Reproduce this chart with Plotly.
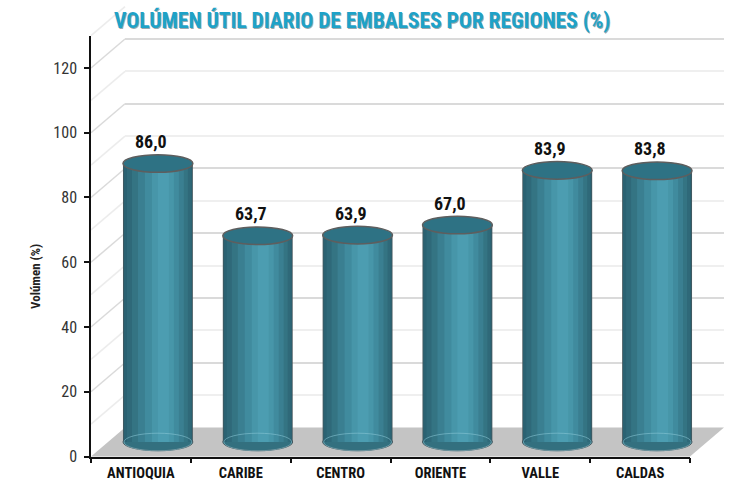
import plotly.graph_objects as go

# ---------------- data ----------------
categories = ["ANTIOQUIA", "CARIBE", "CENTRO", "ORIENTE", "VALLE", "CALDAS"]
volumen = [86.0, 63.7, 63.9, 67.0, 83.9, 83.8]
y_ticks = [0, 20, 40, 60, 80, 100, 120]
title_text = "VOLÚMEN ÚTIL DIARIO DE EMBALSES POR REGIONES (%)"
y_title = "Volúmen (%)"

# ---------------- layout geometry (pixels) ----------------
W, H = 738, 483
FONT = "Liberation Sans Narrow, Arial Narrow, Roboto Condensed, Liberation Sans, sans-serif"
fx0, fx1 = 91, 690          # front plot x extent
fy_top, fy0 = 35.6, 456.5   # front plot y extent (value 130 / value 0)
YMAX = 130
k = (fy0 - fy_top) / YMAX   # px per unit
DX, DY = 34, 29             # depth of 3D box
MX, MY = DX / 2, DY / 2     # bars sit in the middle of the depth
Y2MIN = -6


def dom_x(a, b):
    return [a / W, b / W]


def dom_y(top, bottom):
    return [(H - bottom) / H, (H - top) / H]


def px(x):
    return x / W


def py(y):
    return (H - y) / H


fig = go.Figure()

# ---- bars (cylinders) drawn as layered overlay bars for shading ----
BW = 0.70
layers = [  # (width, center shift, color)
    (0.700, 0.000, "#46585e"),
    (0.684, 0.000, "#2b6272"),
    (0.640, 0.010, "#2f6979"),
    (0.560, 0.020, "#347483"),
    (0.460, 0.030, "#3a7f91"),
    (0.340, 0.040, "#408b9e"),
    (0.220, 0.050, "#4796a9"),
    (0.110, 0.055, "#4c9db1"),
]
for w, c, col in layers:
    fig.add_trace(go.Bar(
        x=categories, y=volumen, width=w, offset=c - w / 2,
        marker=dict(color=col, line=dict(width=0)),
        xaxis="x2", yaxis="y2", showlegend=False, hoverinfo="skip",
    ))

# invisible traces so the back and front axes exist
fig.add_trace(go.Scatter(x=categories, y=[None] * len(categories), xaxis="x", yaxis="y",
                         mode="markers", showlegend=False, hoverinfo="skip"))
fig.add_trace(go.Scatter(x=categories, y=[None] * len(categories), xaxis="x3", yaxis="y3",
                         mode="markers", showlegend=False, hoverinfo="skip"))

shapes = []
# floor
floor_path = (f"M {px(fx0)},{py(fy0)} L {px(fx1)},{py(fy0)} "
              f"L {px(fx1 + DX)},{py(fy0 - DY)} L {px(fx0 + DX)},{py(fy0 - DY)} Z")
shapes.append(dict(type="path", path=floor_path, xref="paper", yref="paper",
                   fillcolor="#c4c4c4", line=dict(width=0), layer="below"))
# side wall diagonals
for v in range(10, YMAX + 1, 10):
    col = "#dadada" if v % 20 == 0 else "#ececec"
    shapes.append(dict(type="line", xref="paper", yref="paper",
                       x0=px(fx0), y0=py(fy0 - v * k), x1=px(fx0 + DX), y1=py(fy0 - DY - v * k),
                       line=dict(color=col, width=1.5), layer="below"))

EH = 8.8 / k  # half height of ellipse in data units
for i, v in enumerate(volumen):
    shapes.append(dict(type="circle", xref="x2", yref="y2",
                       x0=i - BW / 2, x1=i + BW / 2, y0=-EH, y1=EH,
                       fillcolor="#33707f", line=dict(color="#46585e", width=1), layer="below"))
    shapes.append(dict(type="circle", xref="x2", yref="y2",
                       x0=i - BW / 2 + 0.01, x1=i + BW / 2 - 0.01, y0=-EH, y1=EH,
                       fillcolor="rgba(0,0,0,0)", line=dict(color="rgba(140,200,215,0.55)", width=1),
                       layer="above"))
    shapes.append(dict(type="circle", xref="x2", yref="y2",
                       x0=i - BW / 2, x1=i + BW / 2, y0=v - EH, y1=v + EH,
                       fillcolor="#2e7284", line=dict(color="#5e5e5e", width=1.5), layer="above"))

annotations = []
for cat, v in zip(categories, volumen):
    annotations.append(dict(x=cat, y=v, xref="x2", yref="y2",
                            text="<b>" + f"{v:.1f}".replace(".", ",") + "</b>",
                            showarrow=False, yshift=22, xshift=-7, xanchor="center", yanchor="middle",
                            font=dict(family=FONT, size=18, color="#111111")))
for shift, col in [(1.3, "rgba(20,60,70,0.45)"), (0, "#1ea2c8")]:
    annotations.append(dict(x=px(362), y=py(20), xref="paper", yref="paper", text=f"<b>{title_text}</b>",
                            showarrow=False, xshift=shift, yshift=-shift,
                            xanchor="center", yanchor="middle",
                            font=dict(family=FONT, size=21.5, color=col)))
annotations.append(dict(x=px(35), y=py(277), xref="paper", yref="paper", text=f"<b>{y_title}</b>",
                        showarrow=False, textangle=-90, xanchor="center", yanchor="middle",
                        font=dict(family=FONT, size=13, color="#222222")))

axis_off = dict(showgrid=False, showline=False, zeroline=False, showticklabels=False, ticks="",
                automargin=False)

fig.update_layout(
    width=W, height=H,
    margin=dict(l=0, r=0, t=0, b=0, pad=0, autoexpand=False),
    paper_bgcolor="white", plot_bgcolor="rgba(0,0,0,0)",
    barmode="overlay", showlegend=False,
    font=dict(family=FONT, color="#333333"),
    xaxis=dict(domain=dom_x(fx0 + DX, fx1 + DX), type="category", categoryarray=categories,
               range=[-0.5, 5.5], anchor="y", **axis_off),
    yaxis=dict(domain=dom_y(fy_top - DY, fy0 - DY), range=[0, YMAX], anchor="x",
               showgrid=True, gridcolor="#dadada", gridwidth=1.5, dtick=20, tick0=0,
               minor=dict(dtick=10, showgrid=True, gridcolor="#efefef", gridwidth=1.5),
               showline=False, zeroline=False, showticklabels=False, ticks="", automargin=False),
    xaxis2=dict(domain=dom_x(fx0 + MX, fx1 + MX), type="category", categoryarray=categories,
                range=[-0.5, 5.5], anchor="y2", **axis_off),
    yaxis2=dict(domain=dom_y(fy0 - MY - YMAX * k, fy0 - MY - Y2MIN * k), range=[Y2MIN, YMAX],
                anchor="x2", **axis_off),
    xaxis3=dict(domain=dom_x(fx0, fx1), type="category", categoryarray=categories,
                range=[-0.5, 5.5], anchor="y3", showgrid=False, zeroline=False,
                showline=True, linecolor="#111111", linewidth=1.5,
                ticks="outside", tickson="boundaries", ticklen=5, tickcolor="#111111", tickwidth=1.5,
                tickfont=dict(family=FONT, size=14.5, color="#111111"), ticklabelstandoff=2,
                tickprefix="<b>", ticksuffix="</b>", automargin=False),
    yaxis3=dict(domain=dom_y(fy_top, fy0), range=[0, YMAX], anchor="x3",
                tickvals=y_ticks, showgrid=False, zeroline=False,
                showline=True, linecolor="#111111", linewidth=1.5,
                ticks="outside", ticklen=5, tickcolor="#111111", tickwidth=1.5,
                tickfont=dict(family=FONT, size=16, color="#333333"), ticklabelstandoff=4,
                automargin=False),
    shapes=shapes, annotations=annotations,
)

post = (
    "document.documentElement.style.margin='0';document.documentElement.style.padding='0';"
    "document.documentElement.style.overflow='hidden';"
    "document.body.style.margin='0';document.body.style.padding='0';document.body.style.overflow='hidden';"
    "var gd=document.getElementById('{plot_id}');"
    "gd.style.position='absolute';gd.style.left='0px';gd.style.top='0px';"
)
fig.write_html("out.html", config={"displayModeBar": False}, post_script=post)
